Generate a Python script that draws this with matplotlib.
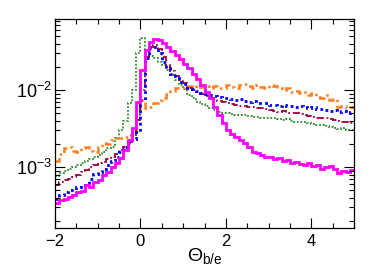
import numpy as np
import matplotlib
matplotlib.use("Agg")
import matplotlib.pyplot as plt
from matplotlib.ticker import MultipleLocator, LogLocator, NullFormatter

plt.rcParams["font.family"] = ["Liberation Sans", "DejaVu Sans"]
plt.rcParams["mathtext.fontset"] = "custom"
plt.rcParams["mathtext.rm"] = "Liberation Sans"
plt.rcParams["mathtext.it"] = "Liberation Sans:italic"

# histogram binning: 70 bins of 0.1 between -2 and 5
bin_edges = np.linspace(-2.0, 5.0, 71)

magenta = [
    0.00034, 0.00038, 0.00039, 0.00041, 0.00043, 0.00048, 0.00049, 0.00058, 0.00056, 0.00065,
    0.00068, 0.00079, 0.00087, 0.00101, 0.00112, 0.00130, 0.00166, 0.00224, 0.00318, 0.0071,
    0.0182, 0.0330, 0.0424, 0.0455, 0.0446, 0.0412, 0.0365, 0.0324, 0.0285, 0.0250,
    0.0218, 0.0191, 0.0164, 0.0138, 0.0116, 0.0095, 0.0078, 0.0061, 0.0047, 0.0037,
    0.00303, 0.00268, 0.00248, 0.00224, 0.00203, 0.00184, 0.00158, 0.00153, 0.00143, 0.00136,
    0.00134, 0.00126, 0.00130, 0.00121, 0.00123, 0.00112, 0.00115, 0.00109, 0.00106, 0.00112,
    0.00103, 0.00106, 0.00096, 0.00101, 0.00104, 0.00096, 0.00083, 0.00090, 0.00087, 0.00091,
]

blue = [
    0.00039, 0.00043, 0.00048, 0.00050, 0.00051, 0.00056, 0.00058, 0.00063, 0.00071, 0.00081,
    0.00087, 0.00096, 0.00106, 0.00121, 0.00136, 0.00158, 0.00184, 0.00203, 0.0023, 0.00288,
    0.0074, 0.0258, 0.0348, 0.0360, 0.0299, 0.0233, 0.0191, 0.0161, 0.0142, 0.0128,
    0.0120, 0.0108, 0.0102, 0.0096, 0.0092, 0.0089, 0.0087, 0.0084, 0.0082, 0.0079,
    0.0078, 0.0077, 0.0074, 0.0076, 0.0073, 0.0071, 0.0072, 0.0069, 0.0067, 0.0069,
    0.0065, 0.0064, 0.0063, 0.0064, 0.0062, 0.0063, 0.0061, 0.0062, 0.0060, 0.0058,
    0.0060, 0.0056, 0.0057, 0.0055, 0.0054, 0.0055, 0.0052, 0.0053, 0.0051, 0.0052,
]

maroon = [
    0.00058, 0.00065, 0.00068, 0.00071, 0.00075, 0.00079, 0.00087, 0.00091, 0.00101, 0.00106,
    0.00112, 0.00117, 0.00126, 0.00136, 0.00147, 0.00166, 0.00184, 0.00213, 0.0026, 0.0041,
    0.0100, 0.0271, 0.0365, 0.0384, 0.0337, 0.0271, 0.0211, 0.0178, 0.0152, 0.0135,
    0.0122, 0.0108, 0.0100, 0.0094, 0.0089, 0.0084, 0.0080, 0.0076, 0.0073, 0.0071,
    0.0069, 0.0066, 0.0064, 0.0062, 0.0063, 0.0061, 0.0060, 0.0058, 0.0058, 0.0056,
    0.0055, 0.0054, 0.0052, 0.0053, 0.0051, 0.0050, 0.0051, 0.0049, 0.0047, 0.0046,
    0.0045, 0.0044, 0.0043, 0.0043, 0.0042, 0.0041, 0.0040, 0.0039, 0.0038, 0.0037,
]

green = [
    0.00076, 0.00083, 0.00090, 0.00096, 0.00101, 0.00106, 0.00112, 0.00120, 0.00126, 0.00136,
    0.00143, 0.00158, 0.00175, 0.00184, 0.00236, 0.0030, 0.0040, 0.0067, 0.0100, 0.0300,
    0.0480, 0.0330, 0.0276, 0.0258, 0.0233, 0.0211, 0.0182, 0.0157, 0.0135, 0.0116,
    0.0102, 0.0086, 0.0078, 0.0071, 0.0066, 0.0062, 0.0058, 0.0055, 0.0052, 0.0051,
    0.0050, 0.0049, 0.0047, 0.0048, 0.0047, 0.0046, 0.0045, 0.0045, 0.0044, 0.0044,
    0.0044, 0.0043, 0.0042, 0.0041, 0.0042, 0.0040, 0.0039, 0.0039, 0.0038, 0.0037,
    0.0036, 0.0035, 0.0035, 0.0034, 0.0033, 0.0032, 0.0031, 0.0032, 0.0030, 0.0030,
]

orange = [
    0.00121, 0.00150, 0.00175, 0.00184, 0.00160, 0.00158, 0.00175, 0.00184, 0.00160, 0.00158,
    0.00184, 0.00203, 0.00199, 0.00224, 0.00236, 0.00236, 0.00248, 0.00260, 0.00288, 0.0055,
    0.0074, 0.0058, 0.0060, 0.0067, 0.0074, 0.0080, 0.0089, 0.0098, 0.0105, 0.0108,
    0.0108, 0.0113, 0.0108, 0.0116, 0.0110, 0.0113, 0.0108, 0.0113, 0.0106, 0.0108,
    0.0116, 0.0110, 0.0108, 0.0115, 0.0120, 0.0113, 0.0108, 0.0115, 0.0110, 0.0108,
    0.0116, 0.0113, 0.0105, 0.0100, 0.0108, 0.0095, 0.0098, 0.0092, 0.0095, 0.0086,
    0.0092, 0.0082, 0.0078, 0.0086, 0.0074, 0.0076, 0.0061, 0.0062, 0.0058, 0.0061,
]

fig = plt.figure(figsize=(3.74, 2.68), dpi=100)
ax = fig.add_axes([0.147, 0.149, 0.800, 0.780])

ax.stairs(green, bin_edges, baseline=None, color="#2E8B2E", lw=1.3, linestyle=(0, (1, 1)))
ax.stairs(orange, bin_edges, baseline=None, color="#FF7F1E", lw=1.8, linestyle=(0, (3, 1.5, 1, 1.5)))
ax.stairs(maroon, bin_edges, baseline=None, color="#99003D", lw=1.3, linestyle=(0, (4, 1.5, 1, 1.5)))
ax.stairs(blue, bin_edges, baseline=None, color="#0000FF", lw=2.0, linestyle=(0, (1, 1.2)))
ax.stairs(magenta, bin_edges, baseline=None, color="#FF00FF", lw=2.0)

ax.set_yscale("log")
ax.set_xlim(-2, 5)
ax.set_ylim(1.62e-4, 0.0836)

ax.xaxis.set_major_locator(MultipleLocator(2))
ax.xaxis.set_minor_locator(MultipleLocator(0.5))
ax.yaxis.set_major_locator(LogLocator(base=10))
ax.yaxis.set_minor_locator(LogLocator(base=10, subs=np.arange(2, 10)))
ax.yaxis.set_minor_formatter(NullFormatter())

ax.tick_params(which="both", direction="in", top=True, right=True, width=0.8)
ax.tick_params(which="major", length=7)
ax.tick_params(which="minor", length=3.5)
ax.tick_params(axis="x", labelsize=12, pad=4)
ax.tick_params(axis="y", labelsize=13, pad=2)
for sp in ax.spines.values():
    sp.set_linewidth(0.9)

ax.set_xlabel(r"$\Theta_{\mathrm{b/e}}$", fontsize=14, labelpad=-2)

fig.savefig("out.png", dpi=100)
